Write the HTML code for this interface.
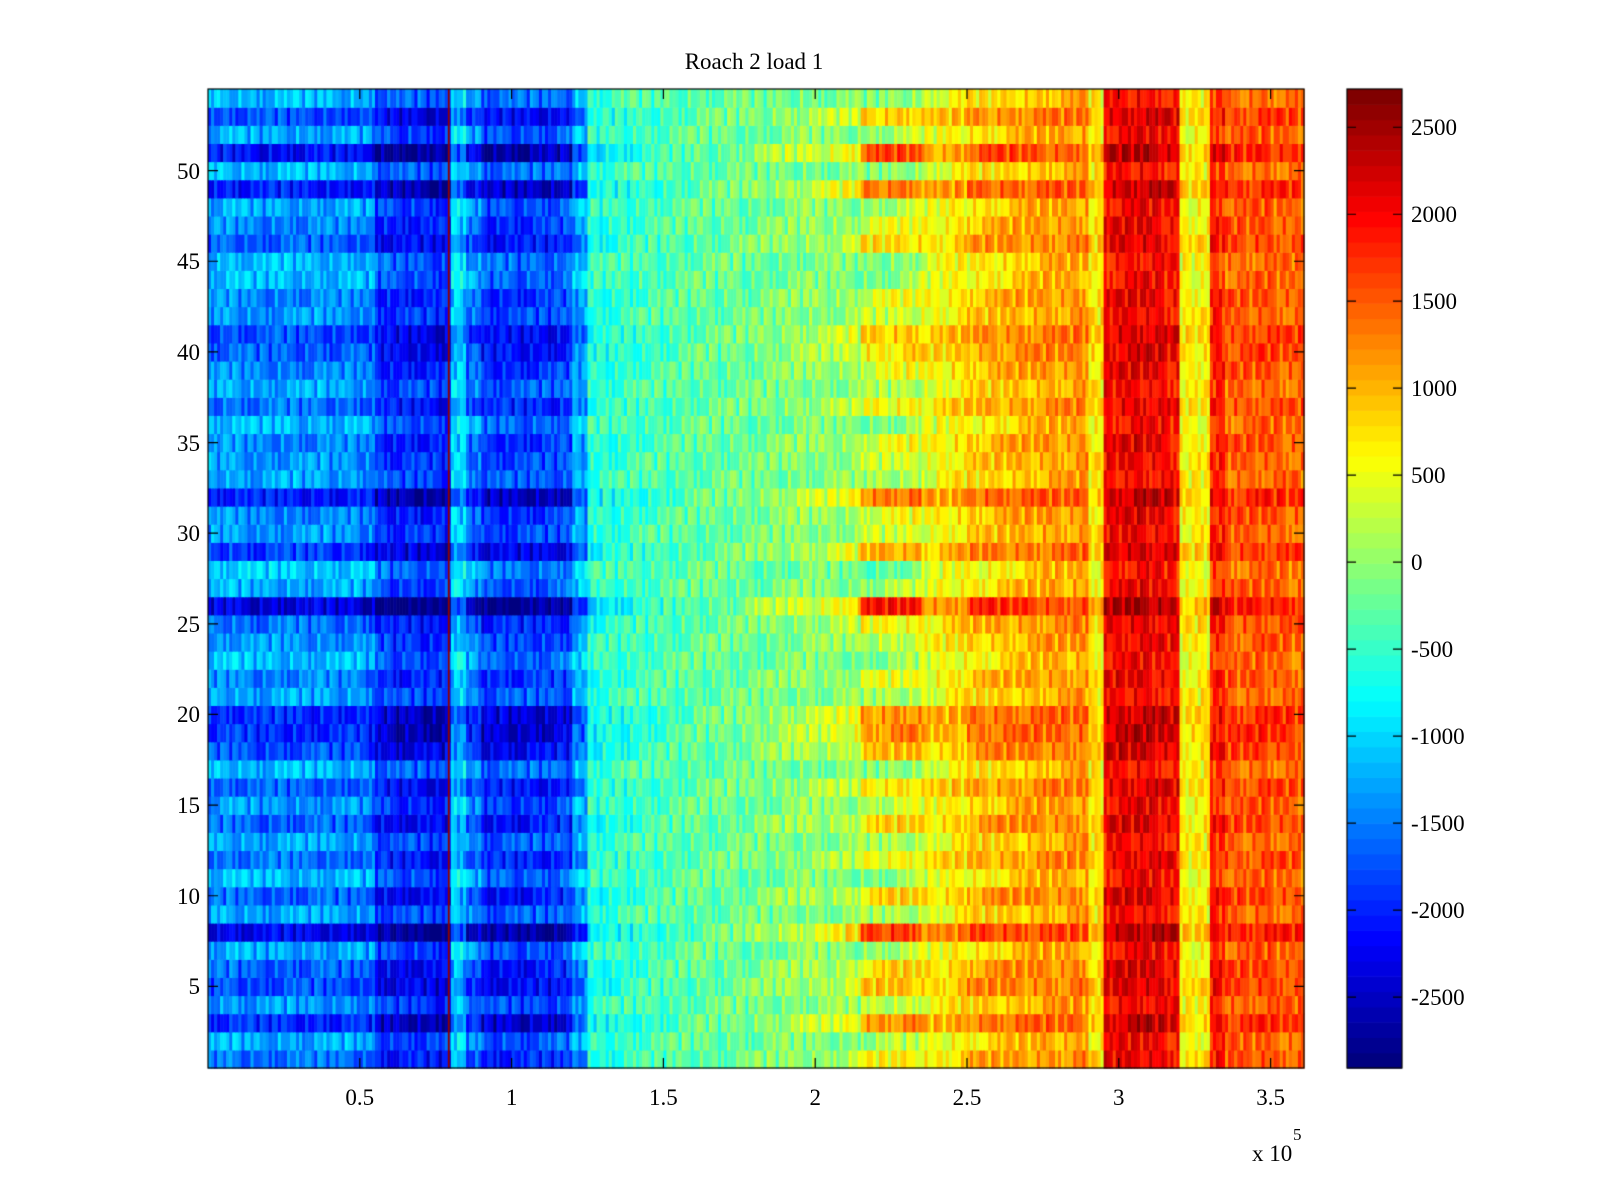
<!DOCTYPE html>
<html><head><meta charset="utf-8"><style>
html,body{margin:0;padding:0;background:#fff;}
#wrap{position:relative;width:1600px;height:1200px;overflow:hidden;font-family:"Liberation Serif",serif;color:#000;}
.t{position:absolute;font-size:23px;line-height:23px;white-space:nowrap;}
canvas{position:absolute;left:0;top:0;}
</style></head><body>
<div id="wrap">
<canvas id="c" width="1600" height="1200"></canvas>
<div class="t" style="left:0;width:1508px;text-align:center;top:50px;">Roach 2 load 1</div>
<div id="labels"></div>
</div>
<script>
// ---- data ----
const xBinWidth = 5000;
const colProfile = [-1450,-1400,-1450,-1500,-1450,-1450,-1500,-1450,-1500,-1450,-1550,-1950,-2050,-2000,-2050,-2100,
 -1100,-1600,-1950,-1900,-1950,-1900,-1900,-1850,-1300,
 -600,-550,-500,-450,-400,-350,-300,-250,-250,-200,-200,-150,-100,-50,0,0,50,100,
 350,400,450,500,550,650,750,900,950,1000,1050,1100,1150,1150,1200,700,
 2000,2050,2100,2050,1950,600,650,1800,1500,1500,1550,1500,1450];
const rowWeight = [1,1,1,1,1,1,1,1,1,1,1,1,1,1,1,1,
 0.8,1,1,1,1,1,1,1,0.8,
 0.4,0.3,0.3,0.2,0.2,0.1,0.1,0,0,0,-0.2,-0.3,-0.3,-0.4,-0.4,-0.5,-0.6,-0.8,
 -1.6,-1.6,-1.6,-1.5,-0.8,-0.6,-0.6,-0.9,-0.9,-0.8,-0.7,-0.6,-0.5,-0.5,-0.5,-0.3,
 -0.4,-0.4,-0.4,-0.4,-0.4,-0.3,-0.3,-0.4,-0.4,-0.4,-0.4,-0.4,-0.4];
// row offsets, row 1 (bottom) to row 54 (top)
const rowOffset = [-100,200,-500,100,-300,-200,200,-800,200,-200,300,-100,200,-200,100,-200,300,-300,-500,-500,
 200,0,300,100,-100,-900,200,400,-400,100,0,-600,200,100,0,300,-100,200,0,-200,-300,100,0,300,300,-200,0,200,-600,300,-700,200,-300,300];
const jitter = [0.6,-0.4,0.9,-0.8,0.1,0.5,-0.9,0.3,-0.2,0.8,-0.6,0.0,0.7,-0.3,-1.0,0.4,0.2,-0.7,0.9,-0.1,
 -0.5,0.6,0.3,-0.9,0.8,-0.2,0.1,-0.6,0.5,-0.8,1.0,-0.4,0.2,-0.1,0.7,-0.5,0.4];
const spikeX = [79000];
const spikeValue = [2600];
const xTicks = [50000,100000,150000,200000,250000,300000,350000];
const xTickLabels = ["0.5","1","1.5","2","2.5","3","3.5"];
const yTicks = [5,10,15,20,25,30,35,40,45,50];
const cTicks = [-2500,-2000,-1500,-1000,-500,0,500,1000,1500,2000,2500];
const cMin = -2908, cMax = 2720, xMax = 361000, nRows = 54, colStep = 1000;

// ---- axes ----
const P = {l:208, r:1304, t:89, b:1068};
const CB = {l:1347, r:1402, t:89, b:1068};
const xs = v => P.l + v / xMax * (P.r - P.l);
const ys = v => P.b - (v - 0.5) / nRows * (P.b - P.t);
const cs = v => CB.b - (v - cMin) / (cMax - cMin) * (CB.b - CB.t);

function jet(v){
  let t = (v - cMin) / (cMax - cMin); t = Math.max(0, Math.min(1, t));
  t = Math.min(63, Math.floor(t * 64)) / 63;
  const f = x => Math.max(0, Math.min(1, x));
  const r = f(1.5 - Math.abs(4*t - 3)), g = f(1.5 - Math.abs(4*t - 2)), b = f(1.5 - Math.abs(4*t - 1));
  return `rgb(${Math.round(r*255)},${Math.round(g*255)},${Math.round(b*255)})`;
}
function value(r, c){
  const xv = c * colStep;
  const bin = Math.min(colProfile.length - 1, Math.floor(xv / xBinWidth));
  return colProfile[bin] + rowOffset[r] * rowWeight[bin] + jitter[(c*7 + r*11) % jitter.length] * 380;
}

const ctx = document.getElementById('c').getContext('2d');
const nCols = Math.ceil(xMax / colStep);
for (let r = 0; r < nRows; r++){
  const y0 = ys(r + 1.5), y1 = ys(r + 0.5);
  for (let c = 0; c < nCols; c++){
    const x0 = xs(c * colStep), x1 = xs(Math.min(xMax, (c + 1) * colStep));
    ctx.fillStyle = jet(value(r, c));
    ctx.fillRect(x0, y0, x1 - x0 + 0.6, y1 - y0 + 0.6);
  }
}
spikeX.forEach((sx, i) => {
  ctx.fillStyle = jet(spikeValue[i]);
  ctx.fillRect(xs(sx), P.t, xs(sx + 600) - xs(sx), P.b - P.t);
});
ctx.strokeStyle = '#000'; ctx.lineWidth = 1.2;
ctx.strokeRect(P.l, P.t, P.r - P.l, P.b - P.t);
ctx.beginPath();
xTicks.forEach(v => { const x = xs(v); ctx.moveTo(x, P.b); ctx.lineTo(x, P.b - 10); ctx.moveTo(x, P.t); ctx.lineTo(x, P.t + 10); });
yTicks.forEach(v => { const y = ys(v); ctx.moveTo(P.l, y); ctx.lineTo(P.l + 10, y); ctx.moveTo(P.r, y); ctx.lineTo(P.r - 10, y); });
ctx.stroke();
// colorbar
for (let i = 0; i < 64; i++){
  const v0 = cMin + i / 64 * (cMax - cMin), v1 = cMin + (i + 1) / 64 * (cMax - cMin);
  ctx.fillStyle = jet((v0 + v1) / 2);
  ctx.fillRect(CB.l, cs(v1), CB.r - CB.l, cs(v0) - cs(v1) + 0.6);
}
ctx.strokeRect(CB.l, CB.t, CB.r - CB.l, CB.b - CB.t);
ctx.beginPath();
cTicks.forEach(v => { const y = cs(v); ctx.moveTo(CB.l, y); ctx.lineTo(CB.l + 9, y); ctx.moveTo(CB.r, y); ctx.lineTo(CB.r - 9, y); });
ctx.stroke();

// labels
const L = document.getElementById('labels');
function addLabel(txt, name, style){
  const d = document.createElement('div');
  d.className = 't'; d.textContent = txt; d.style.cssText = style;
  
  
  L.appendChild(d);
}
xTicks.forEach((v, i) => addLabel(xTickLabels[i], 'x-tick-label', `left:${xs(v)-40}px;width:80px;text-align:center;top:1086px;`));
yTicks.forEach(v => addLabel(String(v), 'y-tick-label', `left:${P.l-80}px;width:72px;text-align:right;top:${ys(v)-11}px;`));
cTicks.forEach(v => addLabel(String(v), 'colorbar-tick-label', `left:1411px;top:${cs(v)-11}px;`));
addLabel('x 10', 'x-axis-exponent', 'left:1252px;top:1142px;');
addLabel('5', 'x-axis-exponent-power', 'left:1293px;top:1123px;font-size:17px;');
</script>
</body></html>
